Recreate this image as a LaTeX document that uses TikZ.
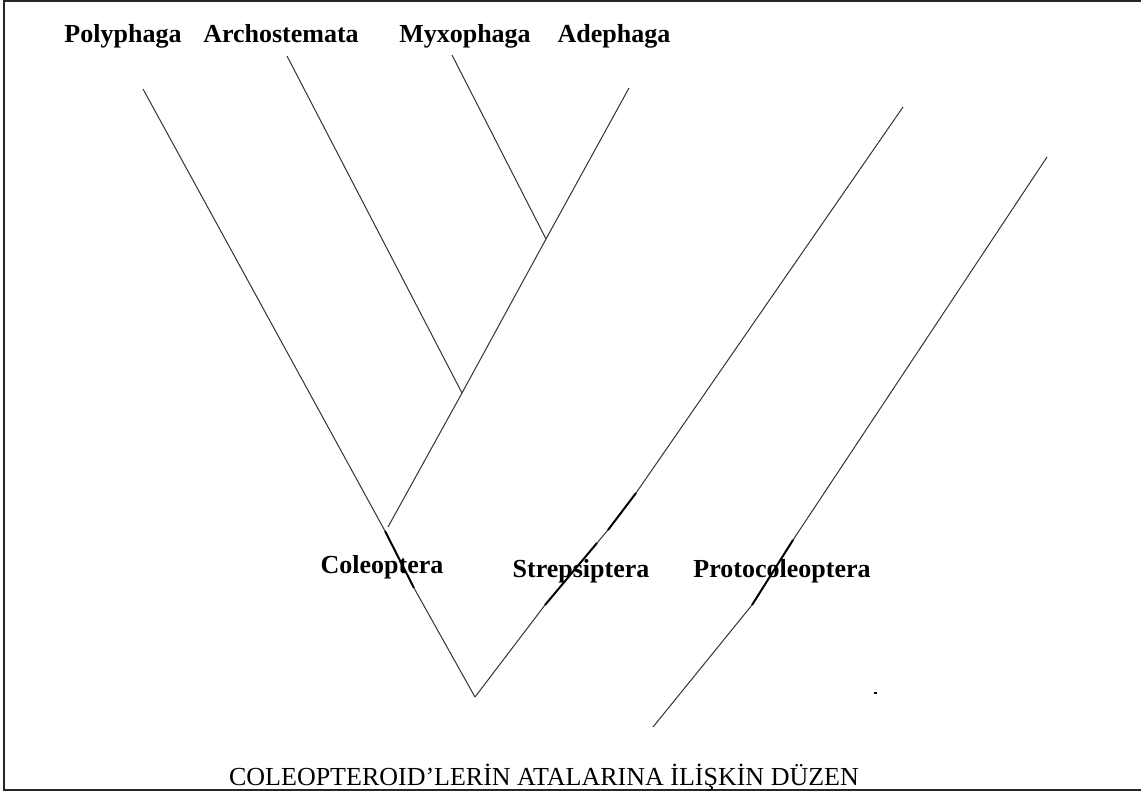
\documentclass[tikz,border=0pt]{standalone}
\usepackage{fontspec}
\setmainfont{Liberation Serif}
\usetikzlibrary{positioning}
\tikzset{
	taxon/.style    ={font=\fontsize{26}{30}\selectfont\bfseries, inner sep=0pt, anchor=base},
	caption/.style  ={font=\fontsize{26}{30}\selectfont, inner sep=0pt, anchor=base},
	branch/.style   ={line width=1pt, draw=black!80},
	boldbranch/.style={line width=2pt, draw=black},
	frame/.style    ={line width=2pt, draw=black!85},
}

\begin{document}
\begin{tikzpicture}[x=1pt, y=-1pt]
	\useasboundingbox (0,0) rectangle (1141,793);
	\draw[frame] (1141,1) -- (4,1) -- (4,790) -- (1141,790);
	% tips and branch points
	\coordinate (tPoly) at (143,89);   \coordinate (tArch) at (287,56);
	\coordinate (tMyxo) at (452,55);   \coordinate (tAdep) at (629,88);
	\coordinate (tStre) at (903,107);  \coordinate (tProt) at (1047,157);
	\coordinate (jMA) at (546,239);    \coordinate (jAr) at (462,393);
	\coordinate (eAdep) at (388,527);  \coordinate (root) at (475,697);
	\coordinate (c1) at (385,531);     \coordinate (c2) at (414,588);
	\coordinate (s1) at (636,493);     \coordinate (s2) at (608,530);
	\coordinate (s3) at (597,543);     \coordinate (s4) at (545,605);
	\coordinate (p1) at (793,540);     \coordinate (p2) at (752,605);
	\coordinate (eProt) at (653,727);
	% taxa
	\node[taxon] (poly) at (123,42) {Polyphaga};
	\node[taxon] (arch) at (281,42) {Archostemata};
	\node[taxon] (myxo) at (465,42) {Myxophaga};
	\node[taxon] (adep) at (614,42) {Adephaga};
	\node[taxon] (cole) at (382,573) {Coleoptera};
	\node[taxon] (stre) at (581,577) {Strepsiptera};
	\node[taxon] (prot) at (782,577) {Protocoleoptera};
	\node[caption] (cap) at (544,785) {COLEOPTEROID’LERİN ATALARINA İLİŞKİN DÜZEN};
	% branches
	\draw[branch] (tPoly) -- (c1); \draw[boldbranch] (c1) -- (c2); \draw[branch] (c2) -- (root);
	\draw[branch] (tArch) -- (jAr); \draw[branch] (tMyxo) -- (jMA);
	\draw[branch] (tAdep) -- (jMA) -- (jAr) -- (eAdep);
	\draw[branch] (tStre) -- (s1); \draw[boldbranch] (s1) -- (s2); \draw[branch] (s2) -- (s3);
	\draw[boldbranch] (s3) -- (s4); \draw[branch] (s4) -- (root);
	\draw[branch] (tProt) -- (p1); \draw[boldbranch] (p1) -- (p2); \draw[branch] (p2) -- (eProt);
	\draw[line width=1.2pt] (874,693) -- (877,693);
\end{tikzpicture}
\end{document}
